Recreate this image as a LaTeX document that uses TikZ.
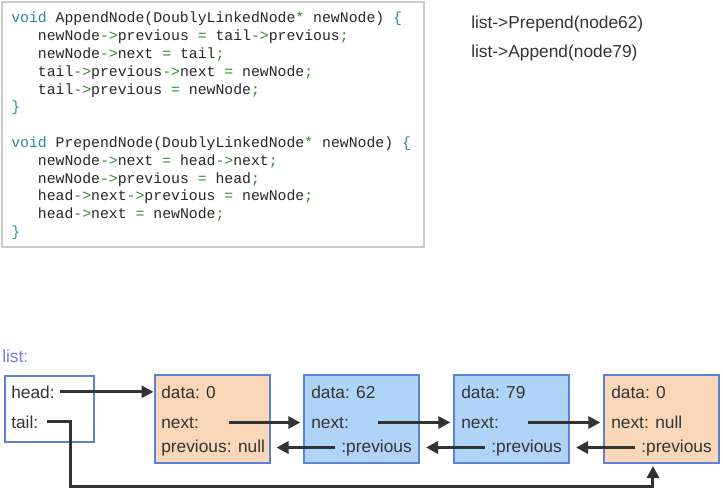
\documentclass[tikz,border=0pt]{standalone}
\usepackage{fontspec}
\setmainfont{Liberation Sans}
\newfontfamily\codefont{Liberation Mono}
\usetikzlibrary{positioning, arrows.meta}

\definecolor{nodeorange}{HTML}{FAD7B9}
\definecolor{nodeblue}{HTML}{B0D4F8}
\definecolor{boxedge}{HTML}{5B81D8}
\definecolor{inkgray}{HTML}{333333}
\definecolor{codeedge}{HTML}{CCCCCC}
\definecolor{codekw}{HTML}{2A8A9C}
\definecolor{codeop}{HTML}{2E8B2E}
\definecolor{listlbl}{HTML}{7B7BE0}

\newcommand{\ck}[1]{\textcolor{codekw}{#1}}
\newcommand{\co}[1]{\textcolor{codeop}{#1}}
\newcommand{\ind}{\phantom{xxx}}

\begin{document}
\begin{tikzpicture}[
  x=0.75pt, y=-0.75pt,
  font=\fontsize{13}{15}\selectfont, text=inkgray,
  >={Triangle[length=9pt, width=9pt]},
  lnode/.style={rectangle, draw=boxedge, line width=1.5pt,
                minimum width=86.25pt, minimum height=66pt, inner sep=0pt},
  fld/.style={anchor=base west, inner sep=0pt},
  rfld/.style={anchor=base east, inner sep=0pt},
  ptr/.style={->, line width=2.25pt, draw=inkgray},
]
\useasboundingbox (0,0) rectangle (723,493);

% --- code ---
\node[draw=codeedge, line width=1.5pt, minimum width=316.5pt, minimum height=183.75pt]
      (codebox) at (213,124.5) {};
\node[anchor=north west, inner sep=0pt, align=left, text=black!85,
      font=\codefont\fontsize{11.1}{13.35}\selectfont] (code) at (11,12)
{\ck{void} AppendNode(DoublyLinkedNode\co{*} newNode) \ck{\{}\\
\ind newNode\co{->}previous \co{=} tail\co{->}previous\co{;}\\
\ind newNode\co{->}next \co{=} tail\co{;}\\
\ind tail\co{->}previous\co{->}next \co{=} newNode\co{;}\\
\ind tail\co{->}previous \co{=} newNode\co{;}\\
\ck{\}}\\
\mbox{}\\
\ck{void} PrependNode(DoublyLinkedNode\co{*} newNode) \ck{\{}\\
\ind newNode\co{->}next \co{=} head\co{->}next\co{;}\\
\ind newNode\co{->}previous \co{=} head\co{;}\\
\ind head\co{->}next\co{->}previous \co{=} newNode\co{;}\\
\ind head\co{->}next \co{=} newNode\co{;}\\
\ck{\}}};

% --- calls ---
\node[fld] (prep) at (471,28) {list->Prepend(node62)};
\node[fld] (app)  at (471,57) {list->Append(node79)};

% --- list ---
\node[fld, text=listlbl] (lbl) at (2,362) {list:};
\node[lnode, minimum width=66.75pt, minimum height=49.5pt] (lst) at (49.5,409) {};
\node[fld] (head) at (11,398) {head:};
\node[fld] (tail) at (11,428) {tail:};

\node[lnode, fill=nodeorange] (n1) at (212,419)   {};
\node[lnode, fill=nodeblue]   (n2) at (361.5,419) {};
\node[lnode, fill=nodeblue]   (n3) at (511.5,419) {};
\node[lnode, fill=nodeorange] (n4) at (661.5,419) {};

\node[fld] (n1data) at (161,398)   {data: 0};
\node[fld] (n1next) at (161,428)   {next:};
\node[fld] (n1prev) at (161,452)   {previous: null};
\node[fld] (n2data) at (311,398)   {data: 62};
\node[fld] (n2next) at (311,428)   {next:};
\node[rfld] (n2prev) at (412,452)  {:previous};
\node[fld] (n3data) at (461,398)   {data: 79};
\node[fld] (n3next) at (461,428)   {next:};
\node[rfld] (n3prev) at (562,452)  {:previous};
\node[fld] (n4data) at (611,398)   {data: 0};
\node[fld] (n4next) at (611,428)   {next: null};
\node[rfld] (n4prev) at (712,452)  {:previous};

% --- pointers ---
\draw[ptr] ([xshift=3.75pt]head.east) -- (n1.west |- head.east);
\draw[ptr, shorten >=2pt] ([xshift=56.25pt]n1.west |- n1next.east) -- (n2.west |- n1next.east);
\draw[ptr, shorten >=2pt] ([xshift=56.25pt]n2.west |- n2next.east) -- (n3.west |- n2next.east);
\draw[ptr, shorten >=2pt] ([xshift=56.25pt]n3.west |- n3next.east) -- (n4.west |- n3next.east);
\draw[ptr, shorten >=4.5pt] ([xshift=-4.5pt]n2prev.west) -- (n1.east |- n2prev.west);
\draw[ptr, shorten >=4.5pt] ([xshift=-4.5pt]n3prev.west) -- (n2.east |- n3prev.west);
\draw[ptr, shorten >=4.5pt] ([xshift=-4.5pt]n4prev.west) -- (n3.east |- n4prev.west);
\coordinate (tailbend) at (70,486);
\draw[ptr, shorten >=1.5pt] ([xshift=6pt]tail.east) -- (tailbend |- tail.east)
      -- (tailbend) -| ([xshift=-6.4pt]n4.south);
\end{tikzpicture}
\end{document}
